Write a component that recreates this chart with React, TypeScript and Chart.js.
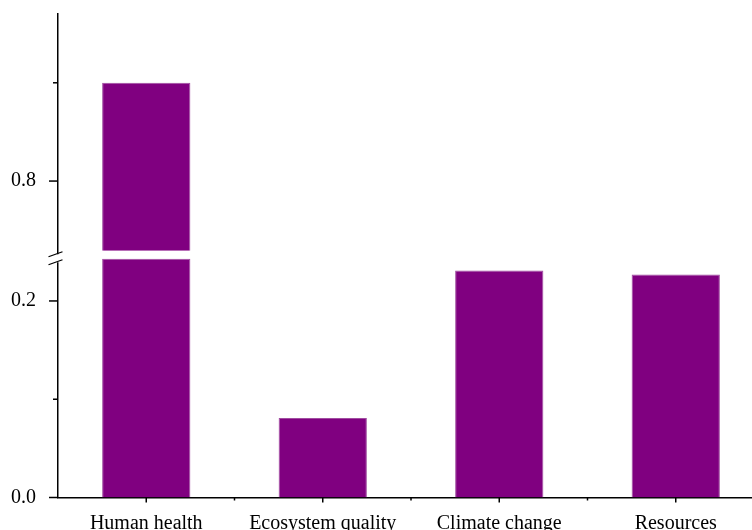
import React, { useEffect, useRef } from "react";
import { Chart, registerables } from "chart.js";

Chart.register(...registerables);

const categories = ["Human health", "Ecosystem quality", "Climate change", "Resources"];
const values = [0.9, 0.081, 0.231, 0.227];

// broken y axis: lower and upper segments
const lowerRange = [0, 0.2465];
const upperRange = [0.7245, 0.97];
const lowerBarTop = 0.243; // bars in lower segment stop here
const upperBarBase = 0.729; // bars in upper segment start here
const lowerTicks = [0, 0.1, 0.2];
const upperTicks = [0.8, 0.9];
const labeledTicks = [0, 0.2, 0.8];

const FONT = "'Liberation Serif', 'Times New Roman', serif";

const axisDecor = {
  id: "axisDecor",
  afterDraw(chart: any) {
    const ctx = chart.ctx;
    const y1 = chart.scales.y;
    const y2 = chart.scales.y2;
    const xs = chart.scales.x;
    const ax = chart.chartArea.left;
    const bottom = chart.chartArea.bottom;
    ctx.save();
    ctx.strokeStyle = "#000";
    ctx.lineWidth = 1.5;
    const drawYTicks = (scale: any, ticks: number[]) => {
      ticks.forEach((v) => {
        const p = scale.getPixelForValue(v);
        const major = labeledTicks.some((l) => Math.abs(l - v) < 1e-9);
        const len = major ? 9 : 5;
        ctx.beginPath();
        ctx.moveTo(ax - len, p);
        ctx.lineTo(ax, p);
        ctx.stroke();
      });
    };
    drawYTicks(y1, lowerTicks);
    drawYTicks(y2, upperTicks);
    for (let i = 0; i < categories.length; i++) {
      const p = xs.getPixelForValue(i);
      ctx.beginPath();
      ctx.moveTo(p, bottom);
      ctx.lineTo(p, bottom + 5);
      ctx.stroke();
      if (i < categories.length - 1) {
        const m = (p + xs.getPixelForValue(i + 1)) / 2;
        ctx.beginPath();
        ctx.moveTo(m, bottom);
        ctx.lineTo(m, bottom + 3);
        ctx.stroke();
      }
    }
    // axis break
    const b = y1.top;
    ctx.fillStyle = "#ffffff";
    ctx.fillRect(ax - 3, b - 1, 6, 8);
    ctx.lineWidth = 1.3;
    ctx.beginPath();
    ctx.moveTo(ax - 9.5, b + 1.5);
    ctx.lineTo(ax + 4.5, b - 3.5);
    ctx.moveTo(ax - 9.5, b + 9.5);
    ctx.lineTo(ax + 4.5, b + 4.5);
    ctx.stroke();
    ctx.restore();
  },
};

const yTickCallback = (v: any) =>
  labeledTicks.some((l) => Math.abs(l - v) < 1e-9) ? Number(v).toFixed(1) : "";

export default function App() {
  const ref = useRef<HTMLCanvasElement | null>(null);
  useEffect(() => {
    if (!ref.current) return;
    const lowerData = values.map((v) => Math.min(v, lowerBarTop));
    const upperData = values.map((v) => (v > upperBarBase ? v : null));
    const chart = new Chart(ref.current, {
      type: "bar",
      data: {
        labels: categories,
        datasets: [
          {
            data: lowerData,
            yAxisID: "y",
            backgroundColor: "#800080",
            borderColor: "#a04ca0",
            borderWidth: 1,
            grouped: false,
            barPercentage: 0.5,
            categoryPercentage: 1,
          } as any,
          {
            data: upperData,
            yAxisID: "y2",
            base: upperBarBase,
            backgroundColor: "#800080",
            borderColor: "#a04ca0",
            borderWidth: 1,
            grouped: false,
            barPercentage: 0.5,
            categoryPercentage: 1,
          } as any,
        ],
      },
      options: {
        animation: false,
        responsive: false,
        devicePixelRatio: 1,
        layout: { padding: { top: 14, right: 0, left: 0, bottom: 0 } },
        plugins: { legend: { display: false }, tooltip: { enabled: false } },
        scales: {
          x: {
            type: "category",
            grid: { display: false },
            border: { display: true, color: "#000", width: 1.5 },
            ticks: { color: "#000", font: { family: FONT, size: 20 }, padding: 6, maxRotation: 0 },
            afterFit: (s: any) => {
              s.height = 32.5;
            },
          },
          y: {
            type: "linear",
            position: "left",
            stack: "v",
            stackWeight: lowerRange[1] - lowerRange[0],
            min: lowerRange[0],
            max: lowerRange[1],
            grid: { display: false },
            border: { display: true, color: "#000", width: 1.5 },
            afterBuildTicks: (s: any) => {
              s.ticks = lowerTicks.map((v) => ({ value: v }));
            },
            ticks: { color: "#000", font: { family: FONT, size: 20 }, padding: 14, callback: yTickCallback },
            afterFit: (s: any) => {
              s.width = 58;
              s.paddingTop = 0;
            },
          },
          y2: {
            type: "linear",
            position: "left",
            stack: "v",
            stackWeight: upperRange[1] - upperRange[0],
            min: upperRange[0],
            max: upperRange[1],
            grid: { display: false },
            border: { display: true, color: "#000", width: 1.5 },
            afterBuildTicks: (s: any) => {
              s.ticks = upperTicks.map((v) => ({ value: v }));
            },
            ticks: { color: "#000", font: { family: FONT, size: 20 }, padding: 14, callback: yTickCallback },
            afterFit: (s: any) => {
              s.width = 58;
              s.paddingTop = 0;
            },
          },
        },
      } as any,
      plugins: [axisDecor],
    });
    return () => chart.destroy();
  }, []);
  return (
    <div
      style={{
        position: "absolute",
        left: 0,
        top: 0,
        width: 752,
        height: 530,
        overflow: "hidden",
        background: "#fff",
      }}
    >
      <canvas ref={ref} width={764} height={530} style={{ display: "block" }} />
    </div>
  );
}
